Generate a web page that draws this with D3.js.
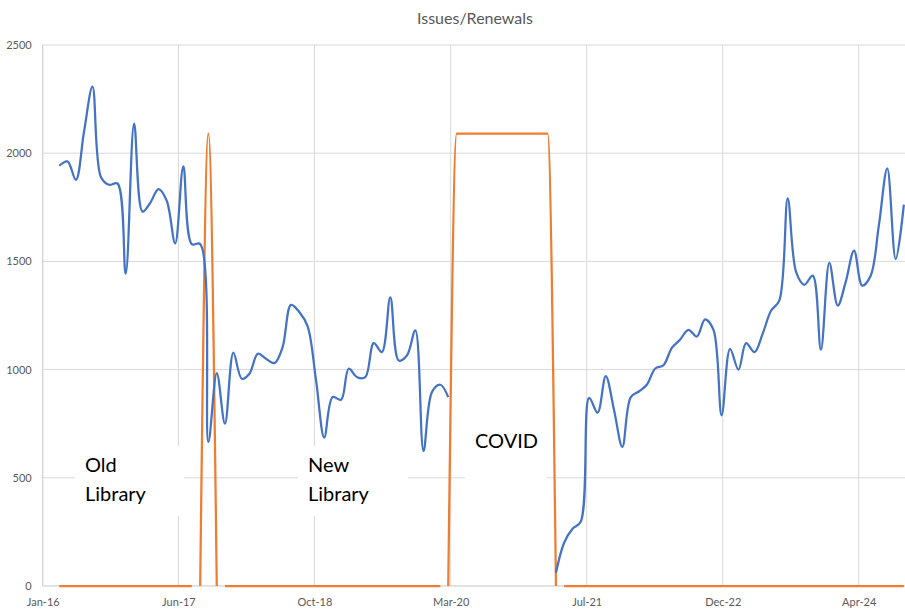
<!DOCTYPE html>
<html>
<head>
<meta charset="utf-8">
<script src="https://cdn.jsdelivr.net/npm/d3@7"></script>
<style>
  body { margin: 0; background: #fff; }
  svg { display: block; font-family: Lato, "Open Sans", sans-serif; }
</style>
</head>
<body>
<svg id="chart" width="905" height="609"></svg>
<script>
// monthly data, Apr 2016 .. Oct 2024
var firstMonth = "2016-04", lastMonth = "2024-10";

var issues = [
  1942, 1962, 1877, 2100, 2308, 1890, 1854, 1860, 1443,                 // 2016 Apr-Dec
  2137, 1730, 1770, 1834, 1780, 1583, 1939, 1580, 1580, 666, 984, 750,  // 2017
  1078, 958, 981, 1073, 1050, 1030, 1104, 1299, 1265, 1200, 950, 686,   // 2018
  873, 861, 1004, 965, 965, 1122, 1081, 1334, 1042, 1065, 1181, 624,    // 2019
  896, 930, 873, null, null, null, null, null, null, null, null, null,  // 2020
  null, null, null, 61, 200, 265, 297, 869, 801, 970, 810, 643,         // 2021
  873, 900, 930, 1005, 1020, 1100, 1138, 1184, 1153, 1232, 1184, 789,   // 2022
  1096, 1000, 1122, 1081, 1166, 1273, 1319, 1791, 1450, 1392, 1434, 1092, // 2023
  1493, 1296, 1404, 1550, 1388, 1434, 1665, 1930, 1511, 1762            // 2024 Jan-Oct
];

// orange marker: library closed / moving
var closedLine = [
  null, null, null, null, null, null, null, null, null,
  null, null, null, null, null, null, null, null, 0, 2090, 0, null,
  null, null, null, null, null, null, null, null, null, null, null, null,
  null, null, null, null, null, null, null, null, null, null, null, null,
  null, null, 0, 2090, 2090, 2090, 2090, 2090, 2090, 2090, 2090, 2090,
  2090, 2090, 2090, 0, null, null, null, null, null, null, null, null,
  null, null, null, null, null, null, null, null, null, null, null, null,
  null, null, null, null, null, null, null, null, null, null, null, null,
  null, null, null, null, null, null, null, null, null, null
];
var openLine = [
  0, 0, 0, 0, 0, 0, 0, 0, 0,
  0, 0, 0, 0, 0, 0, 0, 0, null, null, null, 0,
  0, 0, 0, 0, 0, 0, 0, 0, 0, 0, 0, 0,
  0, 0, 0, 0, 0, 0, 0, 0, 0, 0, 0, 0,
  0, 0, null, null, null, null, null, null, null, null, null, null,
  null, null, null, null, 0, 0, 0, 0, 0, 0, 0, 0,
  0, 0, 0, 0, 0, 0, 0, 0, 0, 0, 0, 0,
  0, 0, 0, 0, 0, 0, 0, 0, 0, 0, 0, 0,
  0, 0, 0, 0, 0, 0, 0, 0, 0, 0
];

var yTicks = [0, 500, 1000, 1500, 2000, 2500];
var xTickDates = ["2016-01-31", "2017-06-13", "2018-10-26", "2020-03-10", "2021-07-23", "2022-12-05", "2024-04-18"];
var title = "Issues/Renewals";
var noteOld = ["Old", "Library"];
var noteNew = ["New", "Library"];
var noteCovid = ["COVID"];

var svg = d3.select("#chart");
var parseMonth = d3.timeParse("%Y-%m");
var parseDay = d3.timeParse("%Y-%m-%d");
var months = d3.timeMonth.range(parseMonth(firstMonth), d3.timeMonth.offset(parseMonth(lastMonth), 1));
var ticks = xTickDates.map(parseDay);

var plotLeft = 42.7, plotTop = 45, plotBottom = 586, plotRight = 910;

var x = d3.scaleTime()
  .domain([ticks[0], ticks[ticks.length - 1]])
  .range([plotLeft, 858.7]);
var y = d3.scaleLinear().domain([0, 2500]).range([plotBottom, plotTop]);

// gridlines
var grid = svg.append("g");
grid.selectAll("line.h")
  .data(yTicks)
  .join("line")
  .attr("class", "h")
  .attr("x1", plotLeft).attr("x2", plotRight)
  .attr("y1", d => y(d)).attr("y2", d => y(d))
  .style("stroke", "#d9d9d9").style("stroke-width", 1);
grid.selectAll("line.v")
  .data(ticks)
  .join("line")
  .attr("class", "v")
  .attr("x1", d => x(d)).attr("x2", d => x(d))
  .attr("y1", plotTop).attr("y2", plotBottom)
  .style("stroke", "#d9d9d9").style("stroke-width", 1);

// axes
var yAxis = d3.axisLeft(y).tickValues(yTicks).tickFormat(d3.format("d")).tickSize(0).tickPadding(11);
svg.append("g").attr("transform", "translate(" + plotLeft + ",0)").call(yAxis)
  .call(g => g.select(".domain").remove())
  .selectAll("text").style("font-size", "11px").style("fill", "#595959").style("font-family", "Lato, sans-serif");

var xAxis = d3.axisBottom(x).tickValues(ticks).tickFormat(d3.timeFormat("%b-%y")).tickSize(0).tickPadding(12);
svg.append("g").attr("transform", "translate(0," + plotBottom + ")").call(xAxis)
  .call(g => g.select(".domain").remove())
  .selectAll("text").style("font-size", "11px").style("fill", "#595959").style("font-family", "Lato, sans-serif");

// text boxes (white fill hides the gridlines under them)
function note(lines, bx, by, bw, bh, tx, ty) {
  var g = svg.append("g");
  g.append("rect").attr("x", bx).attr("y", by).attr("width", bw).attr("height", bh).style("fill", "#fff");
  g.selectAll("text")
    .data(lines)
    .join("text")
    .attr("x", tx)
    .attr("y", (d, i) => ty + i * 29)
    .style("font-size", "20px")
    .style("fill", "#000")
    .text(d => d);
}
note(noteOld, 75, 446, 109, 70, 85, 472);
note(noteNew, 298, 446, 110, 70, 308, 472);
note(noteCovid, 465, 420, 82, 72, 475, 448);

// series
function pts(vals) {
  return months.map((m, i) => ({ date: m, v: vals[i] }));
}
function lineWith(curve) {
  return d3.line()
    .defined(d => d.v != null)
    .x(d => x(d.date))
    .y(d => y(d.v))
    .curve(curve);
}
var blueLine = lineWith(d3.curveCatmullRom.alpha(0.5));
var orangeLine = lineWith(d3.curveMonotoneX);

// axis baseline over gridlines, under the series
svg.append("line").attr("x1", plotLeft).attr("x2", plotRight).attr("y1", plotBottom).attr("y2", plotBottom)
  .style("stroke", "#d9d9d9").style("stroke-width", 1);
svg.append("line").attr("x1", plotLeft).attr("x2", plotLeft).attr("y1", plotTop).attr("y2", plotBottom)
  .style("stroke", "#d0d0d0").style("stroke-width", 1);

svg.append("path").datum(pts(openLine)).attr("d", orangeLine)
  .style("fill", "none").style("stroke", "#ED7D31").style("stroke-width", 2.25);
svg.append("path").datum(pts(closedLine)).attr("d", orangeLine)
  .style("fill", "none").style("stroke", "#ED7D31").style("stroke-width", 2.25);
svg.append("path").datum(pts(issues)).attr("d", blueLine)
  .style("fill", "none").style("stroke", "#4472C4").style("stroke-width", 2.25)
  .style("stroke-linejoin", "round");

svg.append("text")
  .attr("x", 475).attr("y", 24)
  .attr("text-anchor", "middle")
  .style("font-size", "16px")
  .style("fill", "#595959")
  .text(title);
</script>
</body>
</html>
